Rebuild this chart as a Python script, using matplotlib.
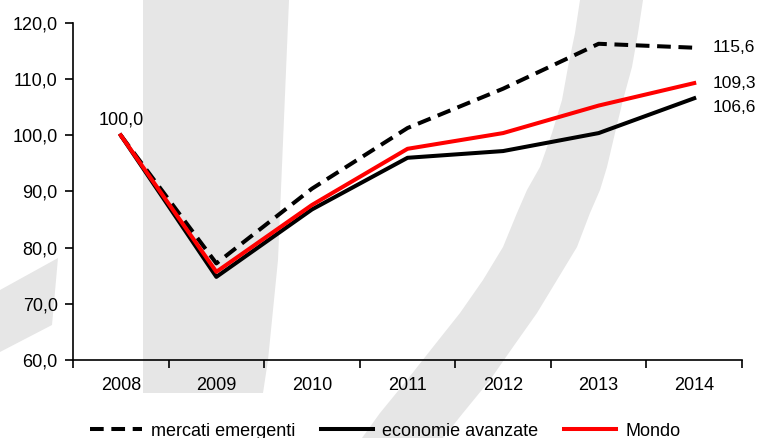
import matplotlib
matplotlib.use("Agg")
import matplotlib.pyplot as plt
from matplotlib.patches import Polygon
from matplotlib.ticker import FuncFormatter

# data (index, 2008 = 100)
years = ["2008", "2009", "2010", "2011", "2012", "2013", "2014"]
mercati_emergenti = [100.0, 77.2, 90.5, 101.3, 108.3, 116.3, 115.6]
economie_avanzate = [100.0, 74.8, 86.8, 96.0, 97.2, 100.4, 106.6]
mondo = [100.0, 75.7, 87.6, 97.6, 100.4, 105.3, 109.3]

plt.rcParams['font.family'] = ['Liberation Sans Narrow', 'Liberation Sans', 'DejaVu Sans']
plt.rcParams['font.size'] = 13

W, H = 758, 438
fig = plt.figure(figsize=(W / 100, H / 100), dpi=100)
fig.patch.set_facecolor("white")

# grey watermark shapes behind the chart (pixel coords, y from top)
grey = "#e6e6e6"
curve_left = [(580, 0), (575, 33), (568, 67), (562, 100), (552, 133), (540, 167),
              (527, 190), (517, 213), (503, 247), (483, 280), (460, 313), (433, 347),
              (407, 380), (380, 413), (362, 438)]
curve_right = [(643, 0), (638, 33), (632, 67), (623, 100), (615, 133), (607, 167),
               (600, 190), (590, 213), (577, 247), (557, 280), (537, 313), (513, 347),
               (490, 380), (463, 413), (443, 438)]
shapes = [
    [(143, 0), (289, 0), (278, 260), (268, 360), (263, 393), (143, 393)],
    [(0, 290), (58, 258), (52, 325), (0, 352)],
    curve_left + curve_right[::-1],
]
for pts in shapes:
    fig.add_artist(Polygon([(x / W, 1 - y / H) for x, y in pts],
                           closed=True, transform=fig.transFigure,
                           facecolor=grey, edgecolor="none", zorder=0))

ax = fig.add_axes([73 / W, 1 - 360 / H, (742 - 73) / W, (360 - 23) / H])
ax.set_facecolor("none")

x = list(range(len(years)))
ax.plot(x, mercati_emergenti, color="black", lw=2.9, dashes=(3.4, 1.9),
        label="mercati emergenti", zorder=3)
ax.plot(x, economie_avanzate, color="black", lw=2.9, label="economie avanzate", zorder=3)
ax.plot(x, mondo, color="#ff0000", lw=2.9, label="Mondo", zorder=4)

ax.set_xlim(-0.5, len(years) - 0.5)
ax.set_ylim(60, 120)
ax.set_yticks(range(60, 121, 10))
ax.yaxis.set_major_formatter(FuncFormatter(lambda v, p: f"{v:.1f}".replace(".", ",")))

# ticks on category boundaries, labels in the middle
ax.set_xticks([i - 0.5 for i in range(len(years) + 1)])
ax.set_xticklabels([])
ax.set_xticks(x, minor=True)
ax.set_xticklabels(years, minor=True)
ax.tick_params(axis="x", which="minor", length=0, pad=12)
ax.tick_params(axis="x", which="major", length=6, width=1.2)
ax.tick_params(axis="y", length=6, width=1.2, pad=5)

for s in ["top", "right"]:
    ax.spines[s].set_visible(False)
for s in ["left", "bottom"]:
    ax.spines[s].set_linewidth(1.2)

fmt = lambda v: f"{v:.1f}".replace(".", ",")
ax.annotate(fmt(mondo[0]), (0, mondo[0]), xytext=(0, 5), textcoords="offset points",
            ha="center", va="bottom")
ax.annotate(fmt(mercati_emergenti[-1]), (6, mercati_emergenti[-1]), xytext=(13, 0),
            textcoords="offset points", ha="left", va="center", fontsize=12.5)
ax.annotate(fmt(mondo[-1]), (6, mondo[-1]), xytext=(13, 0),
            textcoords="offset points", ha="left", va="center", fontsize=12.5)
ax.annotate(fmt(economie_avanzate[-1]), (6, economie_avanzate[-1]), xytext=(13, -7),
            textcoords="offset points", ha="left", va="center", fontsize=12.5)

fig.legend(loc="center", bbox_to_anchor=(0.508, 1 - 431 / H), ncol=3, frameon=False,
           handlelength=2.9, handletextpad=0.5, columnspacing=1.4)

fig.savefig("out.png", dpi=100)
